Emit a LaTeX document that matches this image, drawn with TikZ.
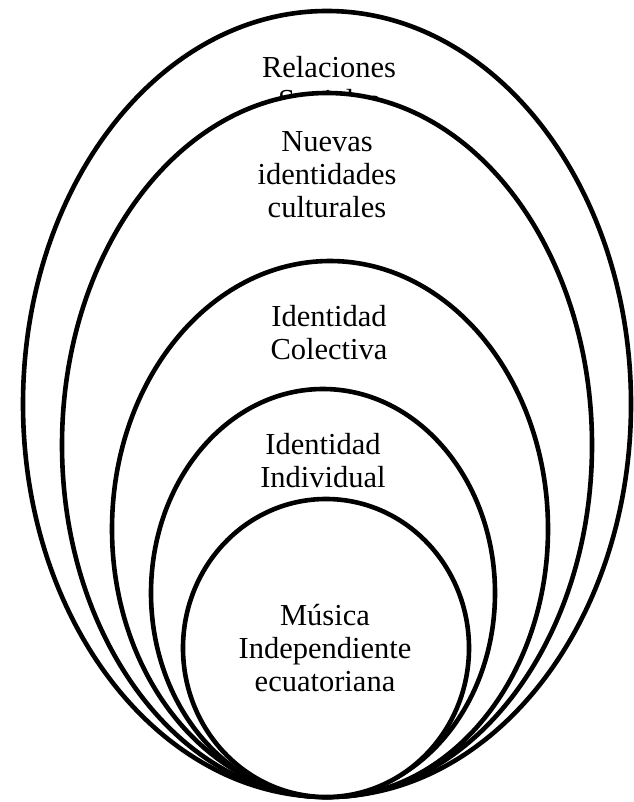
\documentclass[tikz,border=0pt]{standalone}
\usepackage{fontspec}
\setmainfont{Liberation Serif}
\usetikzlibrary{positioning}

\tikzset{ring/.style={draw,fill=white,line width=4.6pt},
  lbl/.style={align=center,inner sep=0pt,font=\fontsize{30.5}{33}\selectfont}}

\begin{document}
\begin{tikzpicture}[x=1pt,y=-1pt]
      \useasboundingbox (0,0) rectangle (633,802);
      \coordinate (A) at (327,404);
      \coordinate (B) at (327,445);
      \coordinate (C) at (330,529);
      \coordinate (D) at (323,593);
      \coordinate (E) at (326,648);

      \draw[ring] (A) ellipse (304 and 393);
      \node[lbl] (rel) at (329,84) {Relaciones\\Sociales};

      \draw[ring] (B) ellipse (265 and 352);
      \node[lbl] (nue) at (327,175) {Nuevas\\identidades\\culturales};

      \draw[ring] (C) ellipse (218 and 268);
      \node[lbl] (col) at (329,333) {Identidad\\Colectiva};

      \draw[ring] (D) ellipse (172 and 204);
      \node[lbl] (ind) at (323,461) {Identidad\\Individual};

      \draw[ring] (E) ellipse (143 and 149);
      \node[lbl] (mus) at (325,648) {Música\\Independiente\\ecuatoriana};

    \end{tikzpicture}
\end{document}
